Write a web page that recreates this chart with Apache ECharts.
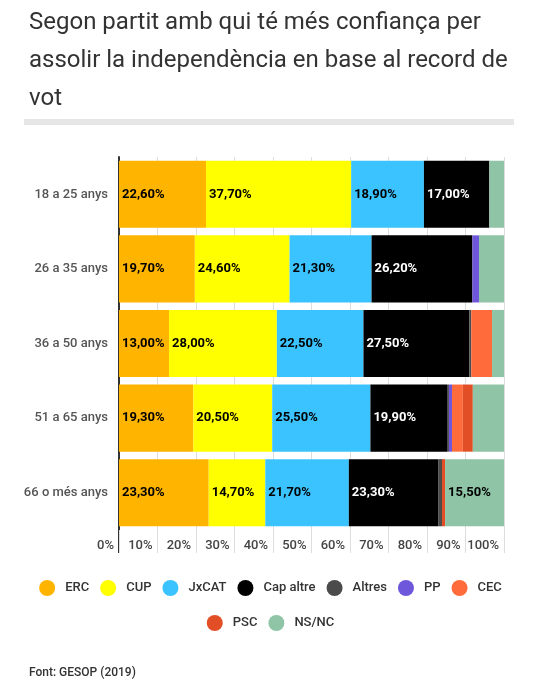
<!DOCTYPE html>
<html>
<head>
<meta charset="utf-8">
<script src="https://cdn.jsdelivr.net/npm/echarts@6/dist/echarts.min.js"></script>
<style>
  html, body { margin: 0; padding: 0; background: #fff; }
  #chart { width: 541px; height: 691px; }
</style>
</head>
<body>
<div id="chart"></div>
<script>
// dades (GESOP 2019)
const categories = ['18 a 25 anys', '26 a 35 anys', '36 a 50 anys', '51 a 65 anys', '66 o més anys']
const xTicks = [0, 10, 20, 30, 40, 50, 60, 70, 80, 90, 100]

const erc = [22.6, 19.7, 13.0, 19.3, 23.3]
const cup = [37.7, 24.6, 28.0, 20.5, 14.7]
const jxcat = [18.9, 21.3, 22.5, 25.5, 21.7]
const capAltre = [17.0, 26.2, 27.5, 19.9, 23.3]
const altres = [0, 0, 0.5, 0.5, 0.9]
const pp = [0, 1.7, 0, 0.8, 0]
const cec = [0, 0, 5.4, 2.8, 0]
const psc = [0, 0, 0, 2.6, 0.8]
const nsnc = [3.8, 6.5, 3.1, 8.1, 15.5]

const partits = [
  { name: 'ERC', data: erc, color: '#ffb400', label: '#000' },
  { name: 'CUP', data: cup, color: '#ffff00', label: '#000' },
  { name: 'JxCAT', data: jxcat, color: '#3bc3ff', label: '#000' },
  { name: 'Cap altre', data: capAltre, color: '#000000', label: '#fff' },
  { name: 'Altres', data: altres, color: '#4b4b4b', label: '#fff' },
  { name: 'PP', data: pp, color: '#6f57db', label: '#fff' },
  { name: 'CEC', data: cec, color: '#ff6b3b', label: '#000' },
  { name: 'PSC', data: psc, color: '#e24e26', label: '#000' },
  { name: 'NS/NC', data: nsnc, color: '#8fc4a6', label: '#000' }
]

const font = 'Roboto, "Noto Sans", sans-serif'
const chart = echarts.init(document.getElementById('chart'))

const series = partits.map(p => ({
  name: p.name,
  type: 'bar',
  stack: 'total',
  barCategoryGap: '10%',
  data: p.data,
  itemStyle: { color: p.color },
  label: {
    show: true,
    position: 'insideLeft',
    distance: 3,
    color: p.label,
    fontFamily: font,
    fontSize: 13,
    fontWeight: 'bold',
    // només etiquetes per als valors grans
    formatter: (d) => d.value >= 10 ? d.value.toFixed(2).replace('.', ',') + '%' : ''
  },
  emphasis: { disabled: true }
}))

// llegenda en dues files centrades
const legendBase = {
  left: 'center',
  icon: 'circle',
  itemWidth: 16,
  itemHeight: 16,
  itemGap: 11,
  textStyle: { fontFamily: font, fontSize: 13, fontWeight: 500, color: '#333', padding: [0, 0, 0, 5] }
}
const names = partits.map(p => p.name)

chart.setOption({
  animation: false,
  textStyle: { fontFamily: font },
  title: [
    {
      text: 'Segon partit amb qui té més confiança per\nassolir la independència en base al record de\nvot',
      left: 24,
      top: -1,
      textStyle: { fontFamily: font, fontSize: 24, fontWeight: 'normal', color: '#333', lineHeight: 38 }
    },
    {
      text: 'Font: GESOP (2019)',
      left: 24,
      top: 662,
      textStyle: { fontFamily: font, fontSize: 12, fontWeight: 500, color: '#333' }
    }
  ],
  graphic: [
    { type: 'rect', left: 24, top: 119, shape: { width: 490, height: 6 }, style: { fill: '#e6e6e6' } },
    // l'eix vertical continua per sota de la graella
    { type: 'rect', left: 118, top: 528, shape: { width: 2, height: 25 }, style: { fill: '#333' } }
  ],
  legend: [
    Object.assign({}, legendBase, { top: 575, data: names.slice(0, 7) }),
    Object.assign({}, legendBase, { top: 610, data: names.slice(7) })
  ],
  grid: { left: 119, right: 37, top: 157, bottom: 161 },
  xAxis: {
    type: 'value',
    min: xTicks[0],
    max: xTicks[xTicks.length - 1],
    interval: 10,
    axisLine: { show: false },
    axisTick: { show: true, length: 23, lineStyle: { color: '#ddd' } },
    splitLine: { show: true, lineStyle: { color: '#ddd' } },
    axisLabel: {
      formatter: '{value}%',
      align: 'right',
      padding: [0, 5, 0, 0],
      margin: 9,
      color: '#444',
      fontFamily: font,
      fontSize: 13,
      fontWeight: 500
    }
  },
  yAxis: {
    type: 'category',
    inverse: true,
    data: categories,
    axisLine: { show: true, lineStyle: { color: '#333', width: 2 } },
    axisTick: { show: false },
    axisLabel: { color: '#555', fontFamily: font, fontSize: 13, fontWeight: 500, margin: 11 }
  },
  series
})

window.addEventListener('resize', () => {
  chart.resize()
})
</script>
</body>
</html>
